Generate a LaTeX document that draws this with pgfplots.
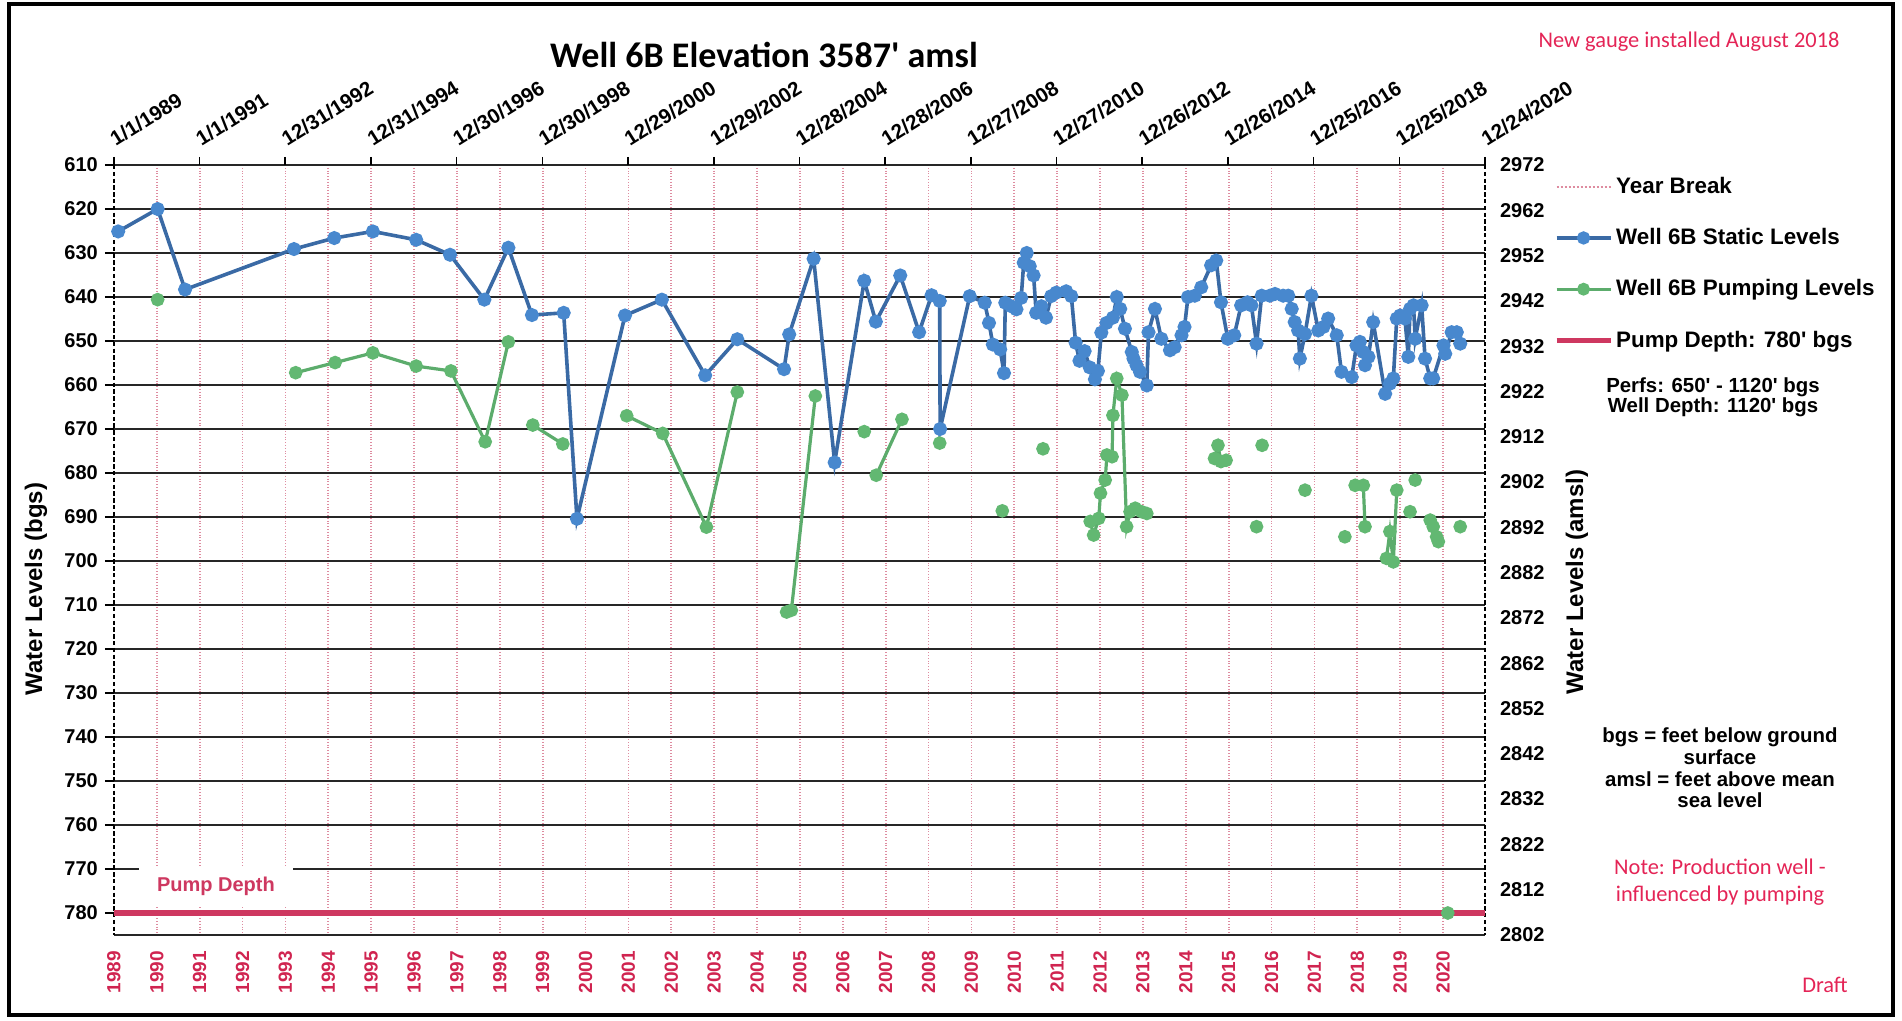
\documentclass[border=0pt]{standalone}
\usepackage{pgfplots}
\pgfplotsset{compat=1.18}
\usepackage{pgfplotstable}
\usepackage{fontspec}
\setmainfont{Liberation Sans}
\newfontfamily\calibri{Carlito}
\definecolor{blueline}{RGB}{58,106,165}
\definecolor{bluemark}{RGB}{72,136,206}
\definecolor{greenline}{RGB}{92,172,108}
\definecolor{greenmark}{RGB}{98,184,114}
\definecolor{pumpred}{RGB}{206,56,96}
\definecolor{gridred}{RGB}{222,140,160}
\definecolor{textred}{RGB}{228,36,86}
\definecolor{yearred}{RGB}{208,36,80}

\pgfplotstableread{
x y
1989.10 625.1
1990.02 620.0
1990.66 638.3
1993.20 629.1
1994.14 626.6
1995.04 625.1
1996.05 627.0
1996.84 630.4
1997.64 640.6
1998.20 628.8
1998.75 644.1
1999.49 643.6
1999.80 690.4
2000.92 644.2
2001.78 640.6
2002.79 657.8
2003.54 649.6
2004.63 656.4
2004.75 648.5
2005.32 631.3
2005.81 677.6
2006.50 636.3
2006.77 645.6
2007.34 635.1
2007.78 648.0
2008.07 639.6
2008.26 640.9
2008.27 670.0
2008.96 639.8
2009.31 641.3
2009.41 645.9
2009.50 650.8
2009.67 651.9
2009.76 657.3
2009.79 641.3
2009.93 642.1
2010.05 642.8
2010.16 640.2
2010.22 632.2
2010.29 630.0
2010.36 633.0
2010.45 635.1
2010.51 643.6
2010.63 642.1
2010.74 644.7
2010.86 639.8
2010.98 639.0
2011.21 638.7
2011.33 639.8
2011.43 650.4
2011.52 654.5
2011.64 652.3
2011.76 656.0
2011.88 658.7
2011.95 656.8
2012.03 648.1
2012.15 645.9
2012.30 644.7
2012.39 640.0
2012.47 642.7
2012.58 647.2
2012.74 652.5
2012.78 654.0
2012.85 655.5
2012.93 657.0
2013.09 660.1
2013.13 648.0
2013.28 642.7
2013.43 649.5
2013.63 652.1
2013.74 651.4
2013.90 648.7
2013.97 646.8
2014.05 640.0
2014.21 639.7
2014.36 637.8
2014.59 632.8
2014.71 631.7
2014.82 641.2
2014.98 649.5
2015.13 648.7
2015.29 641.9
2015.44 641.2
2015.53 641.9
2015.65 650.6
2015.77 639.7
2015.96 639.7
2016.08 639.3
2016.27 639.7
2016.39 639.7
2016.47 642.7
2016.54 645.7
2016.62 647.6
2016.66 654.0
2016.78 648.4
2016.93 639.7
2017.09 647.6
2017.21 646.8
2017.32 644.9
2017.52 648.7
2017.63 657.0
2017.87 658.2
2017.98 651.0
2018.06 650.2
2018.14 652.5
2018.18 655.5
2018.26 653.6
2018.37 645.7
2018.65 662.0
2018.76 659.7
2018.84 658.5
2018.92 644.9
2019.00 644.2
2019.11 644.9
2019.19 653.6
2019.23 642.7
2019.31 641.9
2019.35 649.5
2019.50 641.9
2019.58 654.0
2019.70 658.5
2019.77 658.5
2020.01 651.0
2020.05 652.9
2020.20 648.0
2020.32 648.0
2020.40 650.6
}\staticdata

\pgfplotstableread{
x y
1990.02 640.6
nan nan
1993.24 657.2
1994.16 654.9
1995.04 652.7
1996.05 655.7
1996.86 656.8
1997.66 672.9
1998.20 650.2
nan nan
1998.77 669.1
1999.47 673.4
nan nan
2000.96 667.0
2001.80 671.0
2002.82 692.3
2003.54 661.6
nan nan
2004.69 711.6
2004.80 711.2
2005.36 662.5
nan nan
2006.50 670.6
nan nan
2006.78 680.5
2007.38 667.8
nan nan
2008.26 673.2
nan nan
2009.72 688.6
nan nan
2010.67 674.5
nan nan
2011.77 691.0
2011.85 694.1
2011.97 690.3
2012.01 684.6
2012.12 681.6
2012.16 675.9
2012.28 676.3
2012.30 666.9
2012.39 658.5
2012.51 662.3
2012.62 692.2
2012.70 688.8
2012.82 688.0
2012.97 688.8
2013.09 689.2
nan nan
2014.67 676.7
2014.75 673.7
2014.82 677.4
2014.94 677.1
nan nan
2015.65 692.2
nan nan
2015.78 673.7
nan nan
2016.78 683.9
nan nan
2017.71 694.5
nan nan
2017.95 682.8
2018.14 682.8
2018.18 692.2
nan nan
2018.68 699.4
2018.76 693.3
2018.84 700.2
2018.92 683.9
nan nan
2019.23 688.8
nan nan
2019.35 681.6
nan nan
2019.70 690.7
2019.77 692.2
2019.85 694.5
2019.89 695.6
nan nan
2020.40 692.2
nan nan
2020.11 780.0
}\pumpdata

\pgfplotstableread{
x y
1989.000 780
2020.978 780
}\pumpline

\begin{document}
\begin{tikzpicture}
\useasboundingbox (0pt,0pt) rectangle (951pt,-510.5pt);

% main axis (left y, years at bottom)
\begin{axis}[
  at={(56.95pt,-467.5pt)}, anchor=south west,
  scale only axis, width=685.55pt, height=385pt,
  xmin=1989, xmax=2020.978, ymin=610, ymax=785, y dir=reverse,
  separate axis lines,
  every outer x axis line/.append style={black!85, line width=1.1pt},
  every outer y axis line/.append style={black, line width=0.8pt, dash pattern=on 2.2pt off 1.2pt},
  xtick={1990,1991,...,2020}, extra x ticks={1989}, extra x tick style={grid=none},
  xtick pos=bottom, xtick style={draw=none},
  scaled x ticks=false, scaled y ticks=false,
  /pgf/number format/1000 sep={},
  /pgf/number format/assume math mode=true,
  x tick label style={rotate=90, anchor=east, text=yearred, font=\bfseries\fontsize{9.5}{11}\selectfont},
  ytick={610,620,...,780}, ytick pos=left,
  tick align=outside, major tick length=4.5pt,
  tick style={black, line width=0.8pt},
  y tick label style={font=\bfseries\fontsize{10}{12}\selectfont},
  xmajorgrids, ymajorgrids,
  x grid style={gridred, densely dotted, line width=0.9pt},
  y grid style={black!85, line width=1.1pt},
  unbounded coords=jump,
  legend style={at={(axis description cs:1.0500,0.99)}, anchor=north west,
    draw=none, fill=none, inner sep=0pt,
    font=\bfseries\fontsize{11.2}{13}\selectfont, row sep=12pt,
    nodes={inner xsep=1.5pt},
    cells={anchor=west}},
  legend image code/.code={%
    \draw[mark repeat=2,mark phase=2,#1] plot coordinates {(0pt,0pt) (13.5pt,0pt) (27pt,0pt)};},
]
\addlegendimage{gridred, densely dotted, line width=1pt}
\addlegendentry{Year Break}
\addlegendimage{blueline, line width=1.8pt, mark=*, mark size=2.4pt, mark options={fill=bluemark, draw=bluemark, solid}}
\addlegendentry{Well 6B Static Levels}
\addlegendimage{greenline, line width=1.6pt, mark=*, mark size=2.4pt, mark options={fill=greenmark, draw=greenmark, solid}}
\addlegendentry{Well 6B Pumping Levels}
\addlegendimage{pumpred, line width=2.6pt}
\addlegendentry{Pump Depth: 780\textquotesingle{} bgs}

\addplot[forget plot, blueline, line width=1.8pt, mark=*, mark size=2.6pt,
  mark options={fill=bluemark, draw=bluemark, solid}] table[x=x,y=y]{\staticdata};
\addplot[forget plot, greenline, line width=1.6pt, mark=*, mark size=2.6pt,
  mark options={fill=greenmark, draw=greenmark, solid}] table[x=x,y=y]{\pumpdata};
\addplot[forget plot, pumpred, line width=2.6pt] table[x=x,y=y]{\pumpline};

\node[font=\bfseries\fontsize{10}{12}\selectfont, text=pumpred, fill=white,
  inner xsep=9pt, inner ysep=5pt] at (axis cs:1991.38,773.9) {Pump Depth};
\end{axis}

% top date axis
\begin{axis}[
  at={(56.95pt,-467.5pt)}, anchor=south west,
  scale only axis, width=685.55pt, height=385pt,
  xmin=1989, xmax=2020.978, ymin=0, ymax=1,
  axis x line*=top, axis y line=none,
  x axis line style={draw=none},
  xtick={1989.0000,1990.9986,1992.9973,1994.9959,1996.9945,1998.9932,2000.9918,2002.9904,2004.9890,2006.9877,2008.9863,2010.9849,2012.9836,2014.9822,2016.9808,2018.9795,2020.9781},
  xticklabels={1/1/1989,1/1/1991,12/31/1992,12/31/1994,12/30/1996,12/30/1998,12/29/2000,12/29/2002,12/28/2004,12/28/2006,12/27/2008,12/27/2010,12/26/2012,12/26/2014,12/25/2016,12/25/2018,12/24/2020},
  tick align=outside, major tick length=4pt,
  tick style={black, line width=0.8pt},
  x tick label style={rotate=32, anchor=south west, font=\bfseries\fontsize{10.3}{12}\selectfont},
]
\addplot[draw=none, forget plot] coordinates {(2000,0.5)};
\end{axis}

% right amsl axis
\begin{axis}[
  at={(56.95pt,-467.5pt)}, anchor=south west,
  scale only axis, width=685.55pt, height=385pt,
  xmin=1989, xmax=2020.978, ymin=2802, ymax=2972,
  axis y line*=right, axis x line=none,
  y axis line style={draw=none},
  ytick={2802,2812,...,2972}, major tick length=0pt,
  scaled y ticks=false,
  /pgf/number format/1000 sep={},
  /pgf/number format/assume math mode=true,
  y tick label style={font=\bfseries\fontsize{10}{12}\selectfont, xshift=4pt},
]
\addplot[draw=none, forget plot] coordinates {(2000,2900)};
\end{axis}

\begin{scope}[x=0.5pt, y=-0.5pt]
\draw[line width=1.6pt] (9,4) rectangle (1893,1015);
\node[font=\calibri\bfseries\fontsize{18}{20}\selectfont] at (764,55) {Well 6B Elevation 3587\textquotesingle{} amsl};
\node[font=\calibri\fontsize{11.2}{13}\selectfont, text=textred] at (1689,42) {New gauge installed August 2018};
\node[rotate=90, font=\bfseries\fontsize{12}{14}\selectfont] at (36,589) {Water Levels (bgs)};
\node[rotate=90, font=\bfseries\fontsize{12}{14}\selectfont] at (1577,582) {Water Levels (amsl)};
\node[align=center, font=\bfseries\fontsize{10.2}{9.8}\selectfont] at (1713,397) {Perfs: 650\textquotesingle{} - 1120\textquotesingle{} bgs\\Well Depth: 1120\textquotesingle{} bgs};
\node[align=center, font=\bfseries\fontsize{10.2}{10.9}\selectfont] at (1720,768) {bgs = feet below ground\\surface\\amsl = feet above mean\\sea level};
\node[align=center, font=\calibri\fontsize{11.2}{13.25}\selectfont, text=textred] at (1720,882) {Note: Production well -\\influenced by pumping};
\node[font=\calibri\fontsize{11.2}{13}\selectfont, text=textred] at (1825,985) {Draft};
\end{scope}
\end{tikzpicture}
\end{document}
